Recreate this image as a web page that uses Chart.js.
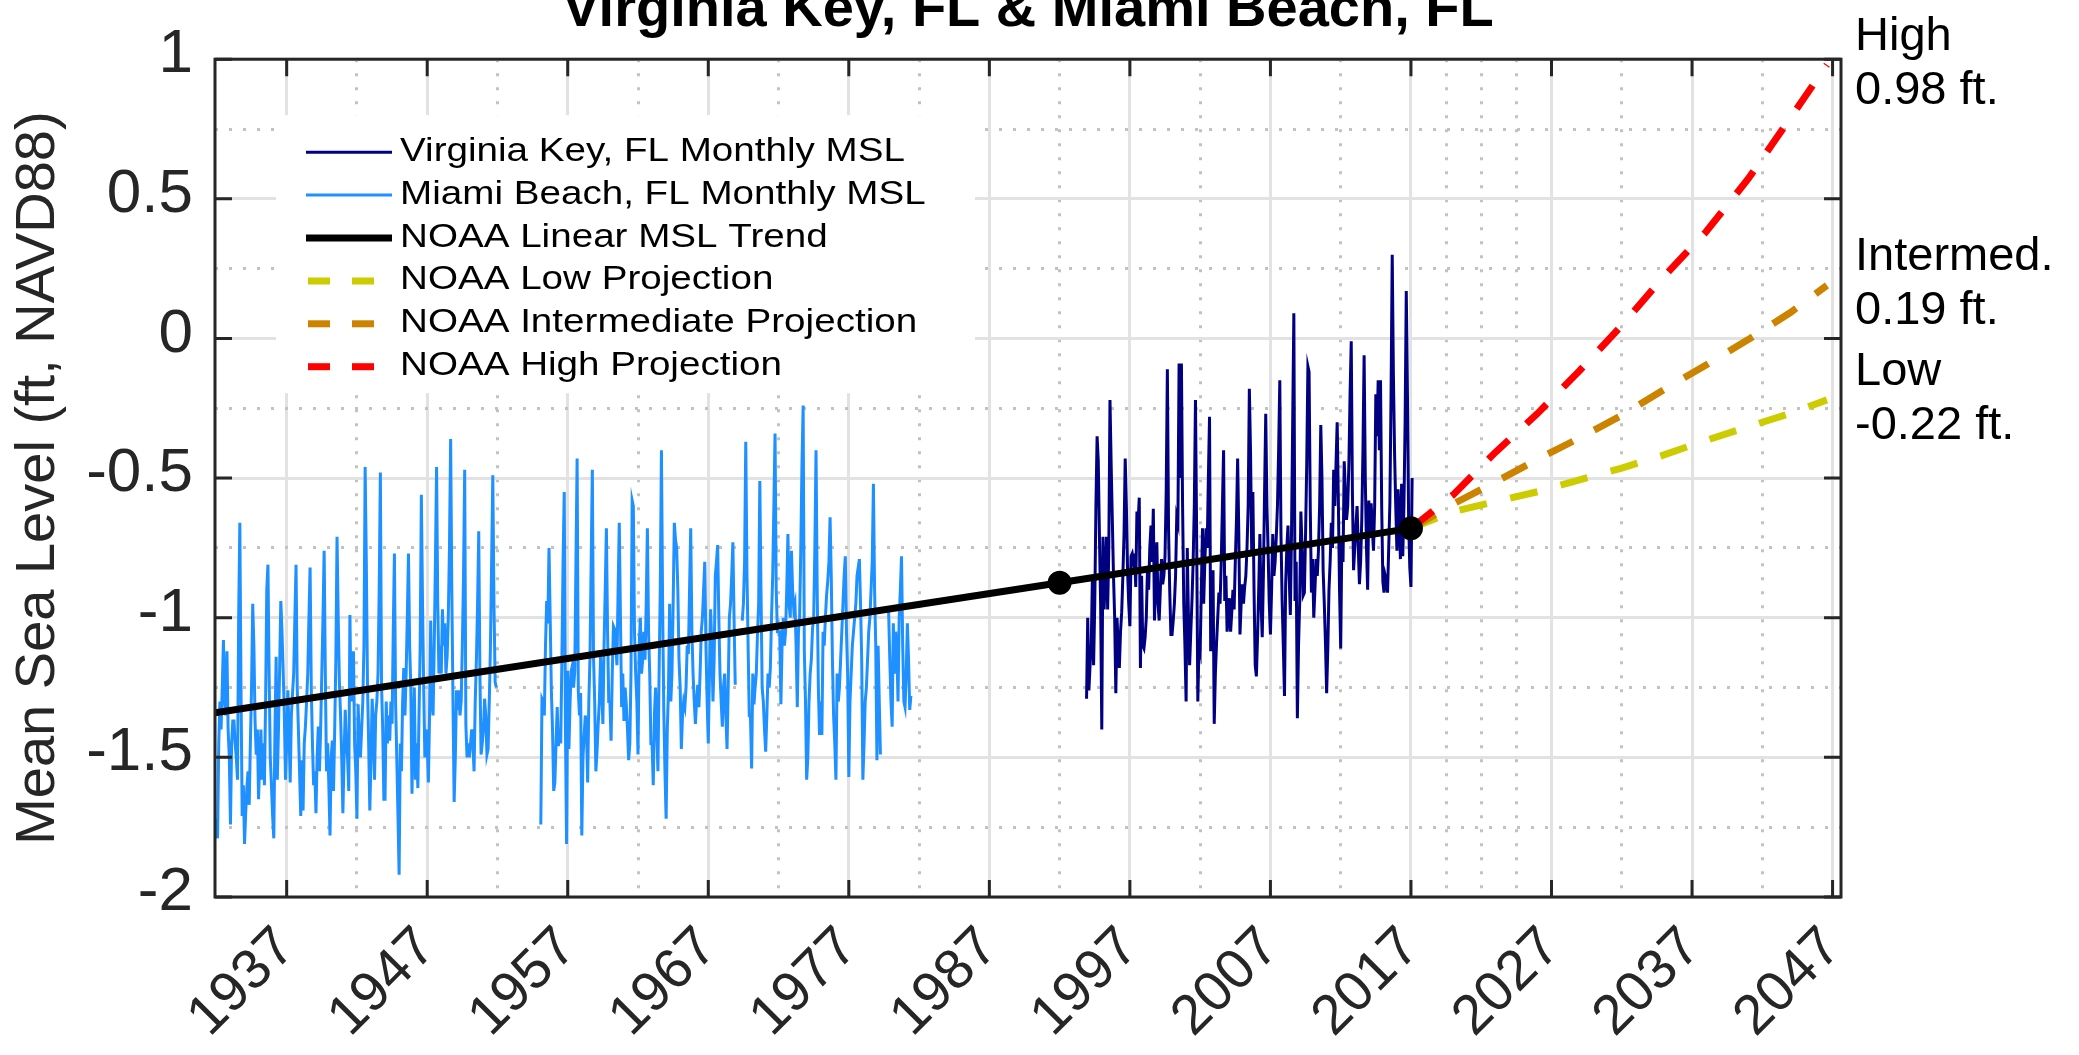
<!DOCTYPE html>
<html>
<head>
<meta charset="utf-8">
<title>Virginia Key, FL &amp; Miami Beach, FL</title>
<script src="https://cdn.jsdelivr.net/npm/chart.js@4.4.1/dist/chart.umd.min.js"></script>
<style>
  html, body { margin: 0; padding: 0; background: #fff; }
  canvas { display: block; }
</style>
</head>
<body>
<canvas id="mslChart" width="2079" height="1055"></canvas>
<script>
// monthly mean sea level (ft, NAVD88), one row per year
const miamiBeachStart = 1932; // Jan 1932
const miamiBeachMsl = [
  -1.72, -1.79, -1.45, -1.30, -1.40, -1.25, -1.08, -1.30, -1.35, -1.12, -1.40, -1.50, // 1932
  -1.74, -1.45, -1.37, -1.37, -1.45, -1.50, -1.58, -1.00, -0.66, -1.25, -1.71, -1.60, // 1933
  -1.81, -1.70, -1.61, -1.55, -1.67, -1.45, -1.25, -0.95, -1.10, -1.37, -1.49, -1.40, // 1934
  -1.65, -1.50, -1.40, -1.58, -1.45, -1.60, -1.30, -0.90, -0.81, -1.20, -1.50, -1.60, // 1935
  -1.71, -1.79, -1.40, -1.14, -1.58, -1.40, -1.18, -0.94, -1.05, -1.19, -1.35, -1.58, // 1936
  -1.45, -1.26, -1.40, -1.59, -1.35, -1.27, -1.20, -1.00, -0.81, -1.25, -1.40, -1.55, // 1937
  -1.71, -1.51, -1.69, -1.45, -1.39, -1.30, -1.20, -1.00, -0.82, -1.25, -1.45, -1.60, // 1938
  -1.55, -1.70, -1.50, -1.39, -1.55, -1.40, -1.20, -1.00, -0.76, -1.20, -1.55, -1.45, // 1939
  -1.60, -1.78, -1.50, -1.44, -1.62, -1.40, -1.15, -0.71, -1.00, -1.23, -1.35, -1.50, // 1940
  -1.70, -1.50, -1.33, -1.45, -1.50, -1.62, -0.99, -1.30, -1.20, -1.12, -1.45, -1.55, // 1941
  -1.72, -1.31, -1.44, -1.50, -1.40, -1.30, -1.10, -0.46, -0.80, -1.24, -1.45, -1.69, // 1942
  -1.50, -1.29, -1.40, -1.58, -1.35, -1.30, -1.20, -0.90, -0.48, -1.24, -1.40, -1.65, // 1943
  -1.65, -1.30, -1.45, -1.35, -1.44, -1.30, -1.38, -1.05, -0.77, -1.30, -1.50, -1.70, // 1944
  -1.92, -1.45, -1.55, -1.30, -1.18, -1.35, -1.20, -1.00, -0.77, -1.10, -1.25, -1.63, // 1945
  -1.40, -1.25, -1.58, -1.45, -1.61, -1.35, -1.10, -0.56, -0.95, -1.25, -1.50, -1.40, // 1946
  -1.45, -1.59, -1.35, -1.01, -1.30, -1.35, -1.10, -0.80, -0.46, -0.95, -1.20, -1.10, // 1947
  -1.20, -0.97, -1.10, -1.02, -1.20, -1.14, -1.00, -0.75, -0.36, -0.90, -1.30, -1.66, // 1948
  -1.50, -1.26, -1.33, -1.26, -1.35, -1.30, -1.10, -0.85, -0.47, -1.38, -1.50, -1.45, // 1949
  -1.50, -1.45, -1.40, -1.45, -1.55, -1.30, -1.15, -0.95, -0.69, -1.20, -1.49, -1.45, // 1950
  -1.40, -1.29, -1.35, -1.49, -1.47, -1.30, -1.10, -0.80, -0.49, -0.95, -1.23, -1.25, // 1951
  null, null, null, null, null, null, null, null, null, null, null, null,             // 1952
  null, null, null, null, null, null, null, null, null, null, null, null,             // 1953
  null, null, null, null, null, null, null, null, null, null, null, null,             // 1954
  null, -1.74, -1.29, -1.30, -1.35, -1.10, -0.94, -1.02, -0.75, -1.00, -1.26, -1.40,  // 1955
  -1.62, -1.59, -1.45, -1.32, -1.46, -1.40, -1.45, -1.15, -0.80, -0.55, -1.38, -1.81, // 1956
  -1.19, -1.47, -1.30, -1.19, -1.17, -1.25, -1.19, -0.80, -0.43, -1.26, -1.35, -1.27, // 1957
  -1.78, -1.50, -1.42, -1.35, -1.40, -1.59, -1.30, -1.14, -0.80, -0.47, -1.14, -1.30, // 1958
  -1.55, -1.48, -1.38, -1.30, -1.14, -1.25, -1.38, -1.10, -0.90, -0.68, -1.05, -1.30, // 1959
  -1.30, -1.44, -1.20, -1.03, -1.04, -1.10, -1.17, -0.90, -0.66, -1.00, -1.32, -1.20, // 1960
  -1.37, -1.25, -1.31, -1.40, -1.51, -1.45, -1.20, -0.58, -0.60, -1.05, -1.20, -1.30, // 1961
  -1.49, -1.10, -1.00, -1.20, -1.15, -1.05, -1.15, -0.95, -0.68, -1.05, -1.20, -1.45, // 1962
  -1.45, -1.60, -1.35, -1.25, -1.40, -1.55, -1.20, -0.90, -0.40, -0.95, -1.33, -1.55, // 1963
  -1.72, -1.40, -1.26, -0.95, -1.30, -1.20, -0.95, -0.66, -0.72, -0.75, -0.90, -1.15, // 1964
  -1.25, -1.47, -1.35, -1.30, -1.32, -1.25, -1.10, -1.13, -0.90, -0.68, -1.05, -1.20, // 1965
  -1.30, -1.38, -1.30, -1.24, -1.32, -1.20, -1.05, -1.00, -0.90, -0.80, -1.10, -1.30, // 1966
  -1.45, -1.20, -0.97, -1.10, -1.30, -1.15, -0.85, -0.80, -0.74, -1.00, -1.20, -1.30, // 1967
  -1.39, -1.25, -1.20, -1.35, -1.47, -1.25, -1.00, -0.95, -0.85, -0.73, -1.00, -1.24, // 1968
  null, null, null, null, null, -1.01, -0.95, -0.80, -0.37, -0.83, -1.10, -1.35,      // 1969
  -1.35, -1.54, -1.20, -1.31, -1.25, -1.20, -1.06, -0.95, -0.51, -0.90, -1.25, -1.30, // 1970
  -1.40, -1.48, -1.35, -1.20, -1.25, -1.18, -1.00, -0.85, -0.60, -0.34, -0.90, -1.05, // 1971
  -1.05, -1.05, -1.31, -1.10, -1.00, -1.10, -1.05, -0.90, -0.70, -0.95, -1.00, -0.76, // 1972
  -0.90, -0.97, -0.95, -1.10, -1.32, -1.05, -1.00, -0.75, -0.45, -0.24, -1.12, -1.30, // 1973
  -1.58, -1.50, -1.30, -1.20, -1.15, -1.04, -1.00, -0.75, -0.40, -0.90, -1.25, -1.42, // 1974
  -1.30, -1.42, -1.05, -1.10, -1.00, -0.92, -0.87, -0.80, -0.64, -0.85, -1.15, -1.35, // 1975
  -1.45, -1.58, -1.20, -1.30, -1.25, -1.15, -1.05, -0.95, -0.85, -0.78, -1.05, -1.20, // 1976
  -1.57, -1.30, -1.20, -1.10, -1.05, -1.00, -0.95, -0.85, -0.82, -0.79, -0.95, -1.15, // 1977
  -1.58, -1.45, -1.30, -1.25, -1.15, -1.05, -1.00, -0.90, -0.80, -0.52, -0.90, -1.10, // 1978
  -1.51, -1.10, -1.30, -1.49, null, null, null, null, null, null, -0.98, -1.15,       // 1979
  -1.30, -1.39, -1.02, -1.20, -1.05, -1.10, -1.30, -1.00, -0.90, -0.78, -1.10, -1.30, // 1980
  -1.32, -1.20, -1.02, -1.15, -1.33, -1.28                                            // 1981
];

const virginiaKeyStart = 1993 + 11 / 12; // Dec 1993
const virginiaKeyMsl = [
  -1.29,                                                                               // 1993
  -1.00, -1.26, -1.17, -1.10, -0.85, -1.17, -0.95, -0.60, -0.35, -0.44, -0.71, -0.95, // 1994
  -1.40, -0.71, -0.97, -0.85, -0.71, -0.97, -0.75, -0.22, -0.45, -0.65, -0.85, -1.00, // 1995
  -1.27, -1.00, -1.10, -1.18, -1.05, -0.98, -0.85, -0.70, -0.43, -0.60, -0.83, -0.95, // 1996
  -1.03, -0.78, -0.77, -0.80, -0.77, -0.89, -0.62, -0.66, -0.57, -1.18, -0.85, -1.10, // 1997
  -1.11, -1.07, -1.00, -0.83, -0.90, -0.75, -0.67, -0.80, -0.61, -1.01, -0.85, -0.73, // 1998
  -0.95, -1.01, -0.90, -0.79, -0.88, -0.85, -0.78, -0.55, -0.11, -0.68, -0.90, -1.06, // 1999
  -1.06, -1.01, -0.95, -0.85, -0.64, -0.66, -0.09, -0.50, -0.09, -0.60, -0.95, -1.10, // 2000
  -1.30, -0.75, -1.00, -1.17, -1.05, -0.94, -0.80, -0.60, -0.22, -0.70, -1.30, -1.10, // 2001
  -1.12, -0.90, -0.68, -0.95, -0.80, -0.68, -0.75, -0.50, -0.28, -1.12, -0.90, -0.83, // 2002
  -1.38, -1.20, -1.09, -1.00, -0.91, -0.95, -0.80, -0.60, -0.40, -0.94, -0.85, -1.05, // 2003
  -1.00, -0.93, -1.05, -0.98, -0.90, -0.97, -0.80, -0.65, -0.43, -0.70, -1.06, -0.95, // 2004
  -0.88, -0.95, -0.89, -0.85, -0.75, -0.60, -0.18, -0.40, -0.76, -0.55, -0.90, -1.17, // 2005
  -1.21, -1.07, -0.90, -0.70, -0.95, -1.07, -0.85, -0.55, -0.27, -0.60, -0.76, -0.95, // 2006
  -1.06, -0.90, -0.70, -0.85, -0.80, -0.71, -0.60, -0.40, -0.15, -0.70, -0.94, -1.10, // 2007
  -1.28, -0.88, -0.75, -0.67, -0.85, -0.99, -0.70, -0.30, 0.09, -0.94, -0.80, -1.36,  // 2008
  -1.10, -0.94, -0.62, -0.75, -0.92, -0.91, -0.70, -0.45, -0.10, -0.12, -0.60, -0.91, // 2009
  -0.79, -1.00, -0.90, -0.79, -0.85, -0.76, -0.60, -0.31, -0.50, -0.83, -0.95, -1.09, // 2010
  -1.27, -1.11, -0.90, -0.80, -0.66, -0.75, -0.47, -0.60, -0.45, -0.30, -0.58, -0.90, // 2011
  -1.11, -0.71, -0.80, -0.44, -0.55, -0.65, -0.60, -0.45, -0.20, -0.01, -0.55, -0.83, // 2012
  -0.75, -0.67, -0.60, -0.75, -0.88, -0.80, -0.65, -0.40, -0.06, -0.50, -0.75, -0.90, // 2013
  -0.58, -0.70, -0.59, -0.68, -0.76, -0.60, -0.20, -0.35, -0.15, -0.40, -0.15, -0.60, // 2014
  -0.87, -0.91, -0.85, -0.87, -0.91, -0.75, -0.59, -0.20, 0.30, -0.13, -0.41, -0.60,  // 2015
  -0.76, -0.54, -0.65, -0.79, -0.52, -0.78, -0.60, -0.30, 0.17, -0.20, -0.65, -0.82,  // 2016
  -0.89, -0.50                                                                         // 2017
];

// NOAA linear trend (markers at 1992 and 2017)
const trendYears = [1931.9, 1992, 2017];
const trendMsl = [-1.34, -0.875, -0.68];

// NOAA projections from 2017
const projectionYears = [2017, 2020, 2023, 2026, 2029, 2032, 2035, 2038, 2041, 2044, 2046.6];
const lowProjection = [-0.68, -0.62, -0.584, -0.549, -0.506, -0.464, -0.417, -0.365, -0.316, -0.268, -0.22];
const intermediateProjection = [-0.68, -0.593, -0.514, -0.433, -0.356, -0.275, -0.183, -0.095, -0.004, 0.093, 0.19];
const highProjection = [-0.68, -0.56, -0.408, -0.269, -0.115, 0.047, 0.222, 0.382, 0.572, 0.79, 0.98];

const xMajorTicks = [1937, 1947, 1957, 1967, 1977, 1987, 1997, 2007, 2017, 2027, 2037, 2047];
const xMinorTicks = [1942, 1952, 1962, 1972, 1982, 1992, 2002, 2012, 2019.5, 2022, 2024.5, 2032, 2042];
const yMajorTicks = [-2, -1.5, -1, -0.5, 0, 0.5, 1];
const yMinorTicks = [-1.75, -1.25, -0.75, -0.25, 0.25, 0.75];

const monthly = (start, values) => values.map((v, i) => ({ x: start + i / 12, y: v }));
const paired = (xs, ys) => xs.map((x, i) => ({ x: x, y: ys[i] }));

const withMinor = (major, minor) => major.map(v => ({ value: v }))
  .concat(minor.map(v => ({ value: v, minorGrid: true })))
  .sort((a, b) => a.value - b.value);

const FONT = '"Liberation Sans", Arial, Helvetica, sans-serif';
const INK = '#262626';
Chart.defaults.font.family = FONT;
Chart.defaults.color = INK;

// inset legend with a white box, like the MATLAB one
const insetLegend = {
  id: 'insetLegend',
  afterDatasetsDraw(chart) {
    const { ctx, chartArea: a } = chart;
    ctx.save();
    ctx.fillStyle = '#fff';
    ctx.fillRect(a.left + 61, a.top + 56, 699, 278);
    chart.data.datasets.forEach((ds, i) => {
      const cy = a.top + 93 + i * 42.9;
      ctx.strokeStyle = ds.borderColor;
      ctx.lineWidth = ds.borderWidth;
      ctx.beginPath();
      if (ds.borderDash) {
        ctx.setLineDash([22, 22]);
        ctx.moveTo(a.left + 93, cy);
        ctx.lineTo(a.left + 159, cy);
      } else {
        ctx.setLineDash([]);
        ctx.moveTo(a.left + 91, cy);
        ctx.lineTo(a.left + 177, cy);
      }
      ctx.stroke();
      ctx.setLineDash([]);
      ctx.save();
      ctx.translate(a.left + 185, cy + 8.5);
      ctx.scale(1.17, 1);
      ctx.fillStyle = '#000';
      ctx.font = '33px ' + FONT;
      ctx.fillText(ds.label, 0, 0);
      ctx.restore();
    });
    ctx.restore();
  }
};

// box round the axes and inward tick marks
const axesBox = {
  id: 'axesBox',
  afterDraw(chart) {
    const { ctx, chartArea: a, scales: { x, y } } = chart;
    const len = 17;
    ctx.save();
    ctx.strokeStyle = INK;
    ctx.lineWidth = 3;
    ctx.beginPath();
    xMajorTicks.forEach(v => {
      const px = x.getPixelForValue(v);
      ctx.moveTo(px, a.bottom); ctx.lineTo(px, a.bottom - len);
      ctx.moveTo(px, a.top); ctx.lineTo(px, a.top + len);
    });
    yMajorTicks.forEach(v => {
      const py = y.getPixelForValue(v);
      ctx.moveTo(a.left, py); ctx.lineTo(a.left + len, py);
      ctx.moveTo(a.right, py); ctx.lineTo(a.right - len, py);
    });
    ctx.stroke();
    ctx.strokeRect(a.left, a.top, a.right - a.left, a.bottom - a.top);
    ctx.restore();
  }
};

// end values of the projections, right of the axes
const endLabels = {
  id: 'endLabels',
  afterDraw(chart) {
    const { ctx, chartArea: a, scales: { y } } = chart;
    ctx.save();
    ctx.font = '47px ' + FONT;
    ctx.fillStyle = '#000';
    ctx.textAlign = 'left';
    ctx.textBaseline = 'alphabetic';
    chart.data.datasets.forEach(ds => {
      if (!ds.endLabel) return;
      const last = ds.data[ds.data.length - 1].y;
      const py = y.getPixelForValue(last);
      ctx.fillText(ds.endLabel, a.right + 14, py - 15);
      ctx.fillText(last.toFixed(2) + ' ft.', a.right + 14, py + 39);
    });
    ctx.restore();
  }
};

const lineDefaults = { pointRadius: 0, tension: 0, fill: false, spanGaps: false, borderJoinStyle: 'miter' };

new Chart(document.getElementById('mslChart'), {
  type: 'line',
  data: {
    datasets: [
      Object.assign({ label: 'Virginia Key, FL Monthly MSL', data: monthly(virginiaKeyStart, virginiaKeyMsl),
        borderColor: '#000080', borderWidth: 3, order: 5 }, lineDefaults),
      Object.assign({ label: 'Miami Beach, FL Monthly MSL', data: monthly(miamiBeachStart, miamiBeachMsl),
        borderColor: '#1e90ff', borderWidth: 3, order: 4 }, lineDefaults),
      Object.assign({}, lineDefaults, { label: 'NOAA Linear MSL Trend', data: paired(trendYears, trendMsl),
        borderColor: '#000', backgroundColor: '#000', borderWidth: 7, order: 0,
        pointRadius: [0, 11, 11], pointBackgroundColor: '#000', pointBorderColor: '#000', pointBorderWidth: 2 }),
      Object.assign({ label: 'NOAA Low Projection', data: paired(projectionYears, lowProjection),
        borderColor: '#cccc00', borderWidth: 7, borderDash: [28, 24], order: 3, endLabel: 'Low' }, lineDefaults),
      Object.assign({ label: 'NOAA Intermediate Projection', data: paired(projectionYears, intermediateProjection),
        borderColor: '#cc8400', borderWidth: 7, borderDash: [28, 24], order: 2, endLabel: 'Intermed.' }, lineDefaults),
      Object.assign({ label: 'NOAA High Projection', data: paired(projectionYears, highProjection),
        borderColor: '#ff0000', borderWidth: 7, borderDash: [28, 24], order: 1, endLabel: 'High' }, lineDefaults)
    ]
  },
  options: {
    responsive: false,
    devicePixelRatio: 1,
    animation: false,
    events: [],
    layout: { padding: { left: 0, right: 238, top: 0, bottom: 0 } },
    plugins: {
      legend: { display: false },
      tooltip: { enabled: false },
      title: {
        display: true,
        fullSize: false,
        text: 'Virginia Key, FL & Miami Beach, FL',
        color: '#000',
        font: { size: 56, weight: 'bold' },
        padding: { top: -28, bottom: 15 }
      }
    },
    scales: {
      x: {
        type: 'linear',
        min: 1931.9,
        max: 2047.6,
        afterBuildTicks: s => { s.ticks = withMinor(xMajorTicks, xMinorTicks); },
        afterFit: s => { s.height = 158; },
        border: { display: false, dash: c => (c.tick && c.tick.minorGrid ? [3, 11] : []) },
        grid: {
          drawTicks: false,
          lineWidth: 3,
          color: c => (c.tick && c.tick.minorGrid ? '#c2c2c2' : '#e2e2e2')
        },
        ticks: {
          autoSkip: false,
          minRotation: 45,
          maxRotation: 45,
          padding: 8,
          color: INK,
          font: { size: 56, lineHeight: 1.7 },
          callback: (v, i, ticks) => (ticks[i].minorGrid ? '' : String(v))
        }
      },
      y: {
        min: -2,
        max: 1,
        afterBuildTicks: s => { s.ticks = withMinor(yMajorTicks, yMinorTicks); },
        afterFit: s => { s.width = 215; },
        border: { display: false, dash: c => (c.tick && c.tick.minorGrid ? [3, 11] : []) },
        grid: {
          drawTicks: false,
          lineWidth: 3,
          color: c => (c.tick && c.tick.minorGrid ? '#c2c2c2' : '#e2e2e2')
        },
        ticks: {
          autoSkip: false,
          padding: 22,
          labelOffset: -4,
          color: INK,
          font: { size: 62 },
          callback: (v, i, ticks) => (ticks[i].minorGrid ? '' : String(v))
        },
        title: {
          display: true,
          text: 'Mean Sea Level (ft, NAVD88)',
          color: INK,
          font: { size: 56 },
          padding: { top: 5, bottom: 0 }
        }
      }
    }
  },
  plugins: [insetLegend, axesBox, endLabels]
});
</script>
</body>
</html>
